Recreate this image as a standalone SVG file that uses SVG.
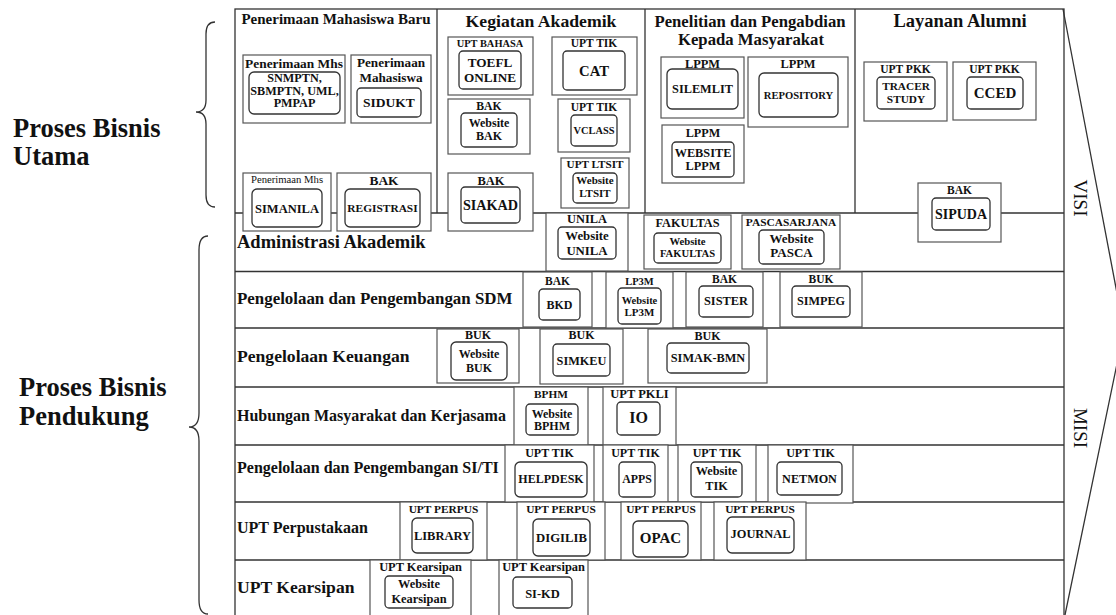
<svg xmlns="http://www.w3.org/2000/svg" width="1116" height="615" viewBox="0 0 1116 615">
<style>
.o{fill:#fff;stroke:#555;stroke-width:1.2}
.i{fill:#fff;stroke:#333;stroke-width:1.3}
.f{fill:none;stroke:#333;stroke-width:1.3}
text{font-family:"Liberation Serif","Times New Roman",serif;font-weight:bold;fill:#111;text-anchor:middle}
.s{font-size:11.5px}
.m{font-size:12.2px}
.rl{text-anchor:start}
.rg{font-weight:normal}
.big{font-size:26.5px}
</style>
<rect width="1116" height="615" fill="#fff"/>
<g id="frame">
<rect class="f" x="235" y="9" width="829" height="607"/>
<path class="f" d="M437,9V213M645,9V213M855,9V213M235,213H1064M235,271.5H1064M235,328H1064M235,387H1064M235,445H1064M235,502H1064M235,560H1064"/>
<path class="f" d="M1063,9L1124,330L1065,615"/>
</g>
<g id="braces">
<path class="f" d="M215,22Q206,22 206,34L206,100Q206,112 196,112Q206,112 206,124L206,195Q206,207 215,207"/>
<path class="f" d="M208,236Q199,236 199,250L199,413Q199,427 189,427Q199,427 199,441L199,600Q199,614 208,614"/>
</g>
<g id="labels">
<text class="rl big" x="13" y="137">Proses Bisnis</text>
<text class="rl big" x="13" y="165">Utama</text>
<text class="rl big" x="19" y="396">Proses Bisnis</text>
<text class="rl big" x="19" y="425">Pendukung</text>
<text x="336" y="23.5" font-size="15">Penerimaan Mahasiswa Baru</text>
<text x="541" y="27" font-size="17.7">Kegiatan Akademik</text>
<text x="750" y="27" font-size="16.7">Penelitian dan Pengabdian</text>
<text x="751" y="45" font-size="16.7">Kepada Masyarakat</text>
<text x="960" y="27" font-size="18.5">Layanan Alumni</text>
<text class="rl" x="237" y="248" font-size="18.5">Administrasi Akademik</text>
<text class="rl" x="237" y="304" font-size="16.9">Pengelolaan dan Pengembangan SDM</text>
<text class="rl" x="237" y="362" font-size="17.6">Pengelolaan Keuangan</text>
<text class="rl" x="237" y="421" font-size="16">Hubungan Masyarakat dan Kerjasama</text>
<text class="rl" x="237" y="473" font-size="16">Pengelolaan dan Pengembangan SI/TI</text>
<text class="rl" x="237" y="533" font-size="16">UPT Perpustakaan</text>
<text class="rl" x="237" y="593" font-size="17.6">UPT Kearsipan</text>
<text class="rg" transform="translate(1074,198) rotate(90)" font-size="19">VISI</text>
<text class="rg" transform="translate(1074,428) rotate(90)" font-size="19">MISI</text>
</g>
<g id="n-snmptn"><rect class="o" x="243" y="55" width="102" height="68"/><text x="294" y="68" font-size="13.4">Penerimaan Mhs</text><rect class="i" x="249" y="72" width="91" height="42" rx="5"/><text class="m" x="294.5" y="82">SNMPTN,</text><text class="m" x="294.5" y="95">SBMPTN, UML,</text><text class="m" x="294.5" y="107">PMPAP</text></g>
<g id="n-sidukt"><rect class="o" x="351" y="55" width="80" height="68"/><text x="391" y="67" font-size="13.2">Penerimaan</text><text x="391" y="82" font-size="13.2">Mahasiswa</text><rect class="i" x="357" y="88" width="64" height="29" rx="4"/><text x="389" y="107" font-size="13.5">SIDUKT</text></g>
<g id="n-toefl"><rect class="o" x="448" y="37" width="85" height="58"/><text x="490" y="47" font-size="10.4">UPT BAHASA</text><rect class="i" x="459" y="51" width="62" height="38" rx="4"/><text x="490" y="67" font-size="13.2">TOEFL</text><text x="490" y="82" font-size="13.2">ONLINE</text></g>
<g id="n-cat"><rect class="o" x="552" y="37" width="85" height="58"/><text class="s" x="594" y="47">UPT TIK</text><rect class="i" x="563" y="51" width="62" height="39" rx="4"/><text x="594" y="76" font-size="14.7">CAT</text></g>
<g id="n-webbak"><rect class="o" x="448" y="99" width="82" height="55"/><text x="489" y="110" font-size="11.7">BAK</text><rect class="i" x="461" y="113" width="56" height="34" rx="4"/><text x="489" y="127" font-size="12">Website</text><text x="489" y="140" font-size="12">BAK</text></g>
<g id="n-vclass"><rect class="o" x="558" y="99" width="72" height="53"/><text class="s" x="594" y="111">UPT TIK</text><rect class="i" x="571" y="115" width="46" height="31" rx="4"/><text x="594" y="134" font-size="10.4">VCLASS</text></g>
<g id="n-ltsit"><rect class="o" x="561" y="158" width="68" height="50"/><text x="595" y="168" font-size="11.2">UPT LTSIT</text><rect class="i" x="573" y="173" width="44" height="30" rx="4"/><text x="595" y="184" font-size="11">Website</text><text x="595" y="197" font-size="11">LTSIT</text></g>
<g id="n-siakad"><rect class="o" x="448" y="173" width="85" height="58"/><text x="491" y="185" font-size="12.5">BAK</text><rect class="i" x="461" y="187" width="59" height="36" rx="4"/><text x="490.5" y="210" font-size="14.2">SIAKAD</text></g>
<g id="n-silemlit"><rect class="o" x="661" y="57" width="83" height="61"/><text x="702.5" y="68" font-size="12.4">LPPM</text><rect class="i" x="667" y="69" width="71" height="40" rx="5"/><text x="702.5" y="93" font-size="12.3">SILEMLIT</text></g>
<g id="n-repository"><rect class="o" x="748" y="57" width="100" height="70"/><text x="798" y="68" font-size="12.4">LPPM</text><rect class="i" x="759" y="73" width="79" height="44" rx="5"/><text x="798.5" y="99" font-size="10.6">REPOSITORY</text></g>
<g id="n-weblppm"><rect class="o" x="662" y="125" width="82" height="58"/><text x="703" y="137" font-size="12.2">LPPM</text><rect class="i" x="672" y="142" width="62" height="35" rx="4"/><text x="703" y="157" font-size="12.3">WEBSITE</text><text x="703" y="170" font-size="12.3">LPPM</text></g>
<g id="n-tracer"><rect class="o" x="864" y="62" width="83" height="59"/><text class="s" x="905.5" y="73">UPT PKK</text><rect class="i" x="877" y="77" width="58" height="32" rx="4"/><text x="906" y="90" font-size="11.3">TRACER</text><text x="906" y="103" font-size="11.3">STUDY</text></g>
<g id="n-cced"><rect class="o" x="953" y="62" width="83" height="58"/><text class="s" x="994.5" y="73">UPT PKK</text><rect class="i" x="967" y="77" width="56" height="32" rx="4"/><text x="995" y="98" font-size="15">CCED</text></g>
<g id="n-sipuda"><rect class="o" x="918" y="183" width="83" height="59"/><text class="s" x="959.5" y="194">BAK</text><rect class="i" x="932" y="198" width="58" height="32" rx="4"/><text x="961" y="219" font-size="14">SIPUDA</text></g>
<g id="n-simanila"><rect class="o" x="243" y="173" width="88" height="58"/><text class="rg" x="287" y="183" font-size="10.7" fill="#444">Penerimaan Mhs</text><rect class="i" x="252" y="189" width="70" height="38" rx="5"/><text x="287" y="213" font-size="12.5">SIMANILA</text></g>
<g id="n-registrasi"><rect class="o" x="337" y="173" width="94" height="58"/><text x="384" y="185" font-size="13.4">BAK</text><rect class="i" x="345" y="189" width="75" height="38" rx="5"/><text x="382.5" y="212" font-size="11.4">REGISTRASI</text></g>
<g id="n-webunila"><rect class="o" x="546" y="213" width="82" height="58"/><text x="587" y="223" font-size="12.4">UNILA</text><rect class="i" x="558" y="227" width="58" height="32" rx="4"/><text x="587" y="240" font-size="12.8">Website</text><text x="587" y="255" font-size="12.8">UNILA</text></g>
<g id="n-webfak"><rect class="o" x="644" y="215" width="87" height="54"/><text x="687.5" y="227" font-size="12.3">FAKULTAS</text><rect class="i" x="654" y="233" width="67" height="30" rx="4"/><text x="687.5" y="245" font-size="10.7">Website</text><text x="687.5" y="257" font-size="10.6">FAKULTAS</text></g>
<g id="n-webpasca"><rect class="o" x="742" y="215" width="98" height="54"/><text x="791" y="226" font-size="11.4">PASCASARJANA</text><rect class="i" x="759" y="230" width="65" height="34" rx="4"/><text x="791.5" y="243" font-size="13">Website</text><text x="791.5" y="257" font-size="13">PASCA</text></g>
<g id="n-bkd"><rect class="o" x="523" y="272" width="69" height="55"/><text class="s" x="557.5" y="285">BAK</text><rect class="i" x="539" y="289" width="41" height="31" rx="4"/><text x="559.5" y="309" font-size="12">BKD</text></g>
<g id="n-weblp3m"><rect class="o" x="606" y="272" width="67" height="56"/><text x="639.5" y="285" font-size="10.5">LP3M</text><rect class="i" x="618" y="288" width="43" height="36" rx="4"/><text x="639.5" y="304" font-size="10.5">Website</text><text x="639.5" y="316" font-size="11">LP3M</text></g>
<g id="n-sister"><rect class="o" x="686" y="272" width="77" height="55"/><text class="s" x="724.5" y="283">BAK</text><rect class="i" x="699" y="286" width="54" height="31" rx="4"/><text x="726" y="305" font-size="12.4">SISTER</text></g>
<g id="n-simpeg"><rect class="o" x="780" y="272" width="82" height="55"/><text class="s" x="821" y="283">BUK</text><rect class="i" x="792" y="286" width="58" height="31" rx="4"/><text x="821" y="305" font-size="12.2">SIMPEG</text></g>
<g id="n-webbuk"><rect class="o" x="437" y="329" width="82" height="54"/><text x="478" y="339" font-size="12">BUK</text><rect class="i" x="451" y="342" width="56" height="38" rx="5"/><text x="479" y="358" font-size="12">Website</text><text x="479" y="372" font-size="12">BUK</text></g>
<g id="n-simkeu"><rect class="o" x="540" y="329" width="83" height="55"/><text x="581.5" y="339" font-size="12">BUK</text><rect class="i" x="553" y="344" width="57" height="32" rx="4"/><text x="581.5" y="365" font-size="12.3">SIMKEU</text></g>
<g id="n-simakbmn"><rect class="o" x="648" y="329" width="119" height="54"/><text x="707.5" y="340" font-size="12">BUK</text><rect class="i" x="667" y="343" width="82" height="30" rx="4"/><text x="708" y="362" font-size="12.3">SIMAK-BMN</text></g>
<g id="n-webbphm"><rect class="o" x="514" y="387" width="74" height="58"/><text x="551" y="398" font-size="11.3">BPHM</text><rect class="i" x="526" y="404" width="52" height="31" rx="4"/><text x="552" y="418" font-size="12">Website</text><text x="552" y="430" font-size="12">BPHM</text></g>
<g id="n-io"><rect class="o" x="603" y="387" width="73" height="58"/><text x="639.5" y="398" font-size="12.5">UPT PKLI</text><rect class="i" x="617" y="402" width="43" height="33" rx="4"/><text x="638.5" y="423" font-size="16">IO</text></g>
<g id="n-helpdesk"><rect class="o" x="505" y="445" width="89" height="57"/><text x="549.5" y="457" font-size="12">UPT TIK</text><rect class="i" x="515" y="462" width="72" height="35" rx="5"/><text x="551" y="483" font-size="12">HELPDESK</text></g>
<g id="n-apps"><rect class="o" x="603" y="445" width="65" height="57"/><text x="635.5" y="457" font-size="12">UPT TIK</text><rect class="i" x="619" y="462" width="36" height="35" rx="4"/><text x="637" y="483" font-size="11.8">APPS</text></g>
<g id="n-webtik"><rect class="o" x="678" y="445" width="78" height="57"/><text x="717" y="457" font-size="12">UPT TIK</text><rect class="i" x="691" y="462" width="51" height="35" rx="4"/><text x="716.5" y="475" font-size="12.3">Website</text><text x="716.5" y="490" font-size="12.3">TIK</text></g>
<g id="n-netmon"><rect class="o" x="768" y="445" width="85" height="58"/><text x="810.5" y="457" font-size="12">UPT TIK</text><rect class="i" x="777" y="462" width="65" height="33" rx="4"/><text x="809.5" y="483" font-size="12.2">NETMON</text></g>
<g id="n-library"><rect class="o" x="400" y="502" width="87" height="58"/><text x="443.5" y="513" font-size="11.4">UPT PERPUS</text><rect class="i" x="412" y="518" width="61" height="35" rx="5"/><text x="442.5" y="540" font-size="12.5">LIBRARY</text></g>
<g id="n-digilib"><rect class="o" x="517" y="502" width="88" height="58"/><text x="561" y="513" font-size="11.4">UPT PERPUS</text><rect class="i" x="533" y="519" width="57" height="37" rx="5"/><text x="561.5" y="542" font-size="12.7">DIGILIB</text></g>
<g id="n-opac"><rect class="o" x="621" y="502" width="80" height="58"/><text x="661" y="513" font-size="11.4">UPT PERPUS</text><rect class="i" x="633" y="521" width="55" height="36" rx="5"/><text x="660.5" y="543" font-size="15">OPAC</text></g>
<g id="n-journal"><rect class="o" x="714" y="502" width="92" height="58"/><text x="760" y="513" font-size="11.4">UPT PERPUS</text><rect class="i" x="727" y="517" width="67" height="36" rx="5"/><text x="760.5" y="538" font-size="12.4">JOURNAL</text></g>
<g id="n-webarsip"><rect class="o" x="370" y="560" width="101" height="56"/><text x="420.5" y="571" font-size="12.4">UPT Kearsipan</text><rect class="i" x="385" y="576" width="68" height="32" rx="4"/><text x="419" y="588" font-size="12.4">Website</text><text x="419" y="603" font-size="12.4">Kearsipan</text></g>
<g id="n-sikd"><rect class="o" x="499" y="560" width="89" height="56"/><text x="543.5" y="571" font-size="12.4">UPT Kearsipan</text><rect class="i" x="513" y="577" width="59" height="31" rx="4"/><text x="542.5" y="598" font-size="12.5">SI-KD</text></g>
</svg>
